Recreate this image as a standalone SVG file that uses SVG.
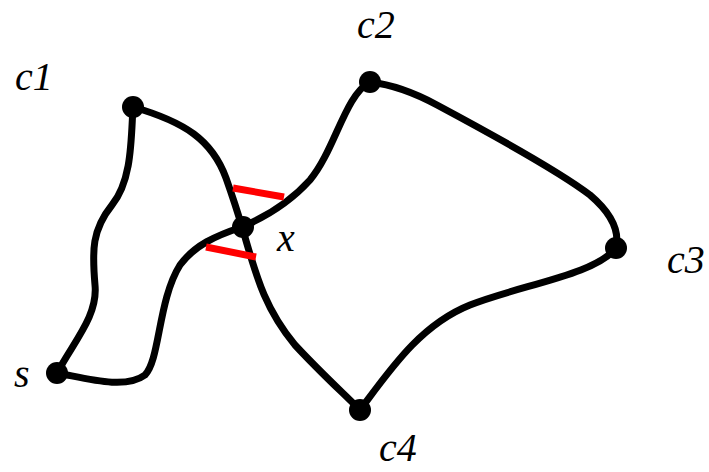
<svg xmlns="http://www.w3.org/2000/svg" width="709" height="472" viewBox="0 0 709 472">
<style>
.e{fill:none;stroke:#000;stroke-width:7;stroke-linecap:round;stroke-linejoin:round}
.r{fill:none;stroke:#ff0000;stroke-width:7}
.n{fill:#000}
.t{font-family:"Liberation Serif",serif;font-style:italic;font-size:40px;fill:#000}
</style>
<rect width="709" height="472" fill="#fff"/>
<g id="connectors">
<path class="e" d="M57,373 C75,340 98,315 95,285 C92,250 92,230 112,205 C132,180 131,140 133,107"/>
<path class="e" d="M133,107 C185,122 212,140 226,178 C232,195 237,210 242,227 C255,270 262,305 295,345 C320,372 342,392 360,410"/>
<path class="e" d="M57,373 C85,378 125,390 145,375 C160,360 158,300 180,265 C195,245 215,236 242,227 C270,215 292,200 310,180 C335,150 345,95 370,82"/>
<path class="e" d="M370,82 C395,85 415,93 437,105 C480,128 560,172 590,195 C610,212 620,230 616,248"/>
<path class="e" d="M616,248 C595,275 520,285 470,305 C420,325 390,370 360,410"/>
<path class="r" d="M233,188 L284,197"/>
<path class="r" d="M206,247 L256,257"/>
</g>
<g id="s"><circle class="n" cx="57" cy="373" r="11"/><text class="t" x="14" y="387">s</text></g>
<g id="c1"><circle class="n" cx="133" cy="107" r="11"/><text class="t" x="15" y="90">c1</text></g>
<g id="c2"><circle class="n" cx="370" cy="82" r="11"/><text class="t" x="357" y="38">c2</text></g>
<g id="c3"><circle class="n" cx="616" cy="248" r="11"/><text class="t" x="667" y="273">c3</text></g>
<g id="c4"><circle class="n" cx="360" cy="410" r="11"/><text class="t" x="379" y="461">c4</text></g>
<g id="x"><circle class="n" cx="243" cy="227" r="11"/><text class="t" x="277" y="251">x</text></g>
</svg>
